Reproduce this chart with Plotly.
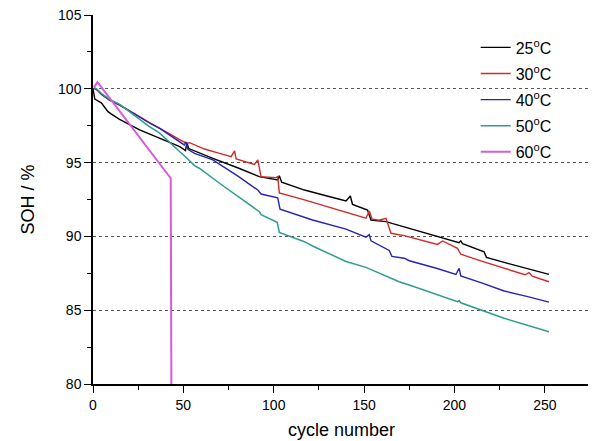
import plotly.graph_objects as go

# ---- data ----
c25 = [0, 1, 4.6, 8.3, 10, 14.7, 25.8, 36.9, 48, 51.2, 51.9, 53, 63.5, 66.3, 80, 92,
       102.2, 103.1, 104.4, 117, 130, 140, 142.4, 143.6, 151.9, 153.8, 162.1, 175, 190,
       200.8, 202.5, 203.5, 204.5, 216.4, 217.7, 230, 240, 252.3]
s25 = [100.0, 99.3, 99.05, 98.45, 98.3, 97.93, 97.21, 96.65, 96.08, 95.81, 96.35, 95.95, 95.42, 95.29, 94.65, 94.05,
       93.82, 94.11, 93.67, 93.14, 92.72, 92.4, 92.74, 92.17, 91.79, 91.11, 91.0, 90.55, 90.05,
       89.64, 89.57, 89.7, 89.5, 88.96, 88.58, 88.16, 87.84, 87.43]

c30 = [0.5, 2, 5, 9, 14.8, 20, 25.8, 31, 36.9, 42.4, 47.9, 52, 53.4, 56.2, 61.7, 70, 76.5, 78.3, 79.2,
       89.3, 91.2, 93, 101.3, 102.2, 103.1, 117, 132.6, 151, 152.9, 154.4, 158, 162.1, 164.9, 172.2,
       190.6, 193.4, 201.7, 203.5, 215, 227.5, 239, 241.3, 243, 252.3]
s30 = [100.05, 99.95, 99.6, 99.25, 98.9, 98.5, 98.11, 97.72, 97.35, 96.95, 96.55, 96.3, 96.35, 96.2, 95.92, 95.63, 95.4, 95.79, 95.25,
       94.88, 95.18, 94.04, 93.98, 94.05, 92.95, 92.47, 91.9, 91.23, 91.72, 91.18, 91.1, 91.23, 90.21, 90.05,
       89.46, 89.69, 89.19, 88.79, 88.33, 87.84, 87.4, 87.55, 87.3, 86.93]

c40 = [0.5, 2, 5, 9, 14.8, 20, 25.8, 31, 36.9, 42, 47.9, 50.5, 51.5, 52.5, 56.2, 66.3, 80, 91.2, 93,
       102.2, 103.5, 117, 121.5, 140, 151, 152.9, 153.8, 163.9, 165.4, 172.2, 175, 190, 200.8, 202.6,
       203.5, 215, 227.5, 240, 252.3]
s40 = [100.05, 99.95, 99.6, 99.25, 98.9, 98.5, 98.11, 97.7, 97.32, 96.9, 96.42, 96.2, 96.4, 95.9, 95.63, 95.18, 94.1, 93.14, 92.87,
       92.62, 91.85, 91.33, 91.11, 90.49, 89.95, 90.12, 89.7, 89.05, 88.65, 88.52, 88.35, 87.84, 87.42, 87.84,
       87.32, 86.85, 86.3, 85.94, 85.55]

c50 = [0.5, 2, 5, 9, 14.8, 20, 25.8, 31, 36.9, 42.4, 47.9, 51.6, 56.2, 59, 70, 92.1, 93, 101.9, 103.1,
       117, 121.5, 140, 151, 169.4, 175, 201.7, 202.6, 203.5, 227.5, 252.3]
s50 = [100.1, 100.0, 99.65, 99.3, 98.95, 98.45, 97.9, 97.45, 97.0, 96.35, 95.75, 95.35, 94.8, 94.6, 93.6, 91.67, 91.48, 90.95, 90.27,
       89.64, 89.35, 88.3, 87.9, 86.93, 86.71, 85.58, 85.65, 85.5, 84.45, 83.54]

c60 = [0.5, 2.5, 43, 43.5]
s60 = [100.1, 100.45, 93.94, 75.0]

names = ["25<sup>o</sup>C", "30<sup>o</sup>C", "40<sup>o</sup>C", "50<sup>o</sup>C", "60<sup>o</sup>C"]
colors = ["#000000", "#d02a2a", "#2424b4", "#2e9c8e", "#d85ad8"]
widths = [1.4, 1.4, 1.4, 1.5, 2.0]
series = [(c25, s25), (c30, s30), (c40, s40), (c50, s50), (c60, s60)]

x_ticks = [0, 50, 100, 150, 200, 250]
y_ticks = [80, 85, 90, 95, 100, 105]

FONT = "Liberation Sans, Arial, sans-serif"

fig = go.Figure()
for i, ((cx, sy), nm, col, w) in enumerate(zip(series, names, colors, widths)):
    fig.add_trace(go.Scatter(x=cx, y=sy, mode="lines", name=nm, legendgroup=f"g{i}",
                             line=dict(color=col, width=w)))

axis_common = dict(showline=True, linecolor="black", linewidth=1.5, zeroline=False,
                   tickcolor="black", tickwidth=1.2, automargin=False)

fig.update_layout(
    width=588, height=433,
    margin=dict(l=85, r=6, t=7, b=57),
    paper_bgcolor="white", plot_bgcolor="white",
    font=dict(family=FONT, color="black", size=14),
    showlegend=True,
    legend=dict(x=0.77, y=0.958, xanchor="left", yanchor="top",
                bgcolor="rgba(0,0,0,0)", font=dict(family=FONT, size=16),
                tracegroupgap=2.3),
    xaxis=dict(range=[0, 275], tickvals=x_ticks, ticks="outside", ticklen=7,
               minor=dict(dtick=25, tick0=0, ticks="outside", ticklen=4, tickcolor="black"),
               showgrid=False, tickfont=dict(size=14), ticklabeloverflow="allow",
               title=dict(text="cycle number", font=dict(size=18), standoff=12), **axis_common),
    yaxis=dict(range=[80, 105], tickvals=y_ticks, ticks="outside", ticklen=7,
               minor=dict(dtick=2.5, tick0=80, ticks="outside", ticklen=4, tickcolor="black"),
               showgrid=True, gridcolor="#555555", griddash="dot", gridwidth=1,
               tickfont=dict(size=14), ticklabeloverflow="allow",
               title=dict(text="SOH / %", font=dict(size=18), standoff=19), **axis_common),
    xaxis2=dict(range=[0, 275], overlaying="x", side="top", anchor="y", tickvals=x_ticks,
                ticks="inside", ticklen=6, showticklabels=False, showgrid=False,
                minor=dict(dtick=25, tick0=0, ticks="inside", ticklen=4, tickcolor="black"),
                **axis_common),
    yaxis2=dict(range=[80, 105], overlaying="y", side="right", anchor="x", tickvals=y_ticks,
                ticks="inside", ticklen=6, showticklabels=False, showgrid=False,
                minor=dict(dtick=2.5, tick0=80, ticks="inside", ticklen=4, tickcolor="black"),
                **axis_common),
)

fig.write_html("out.html")
